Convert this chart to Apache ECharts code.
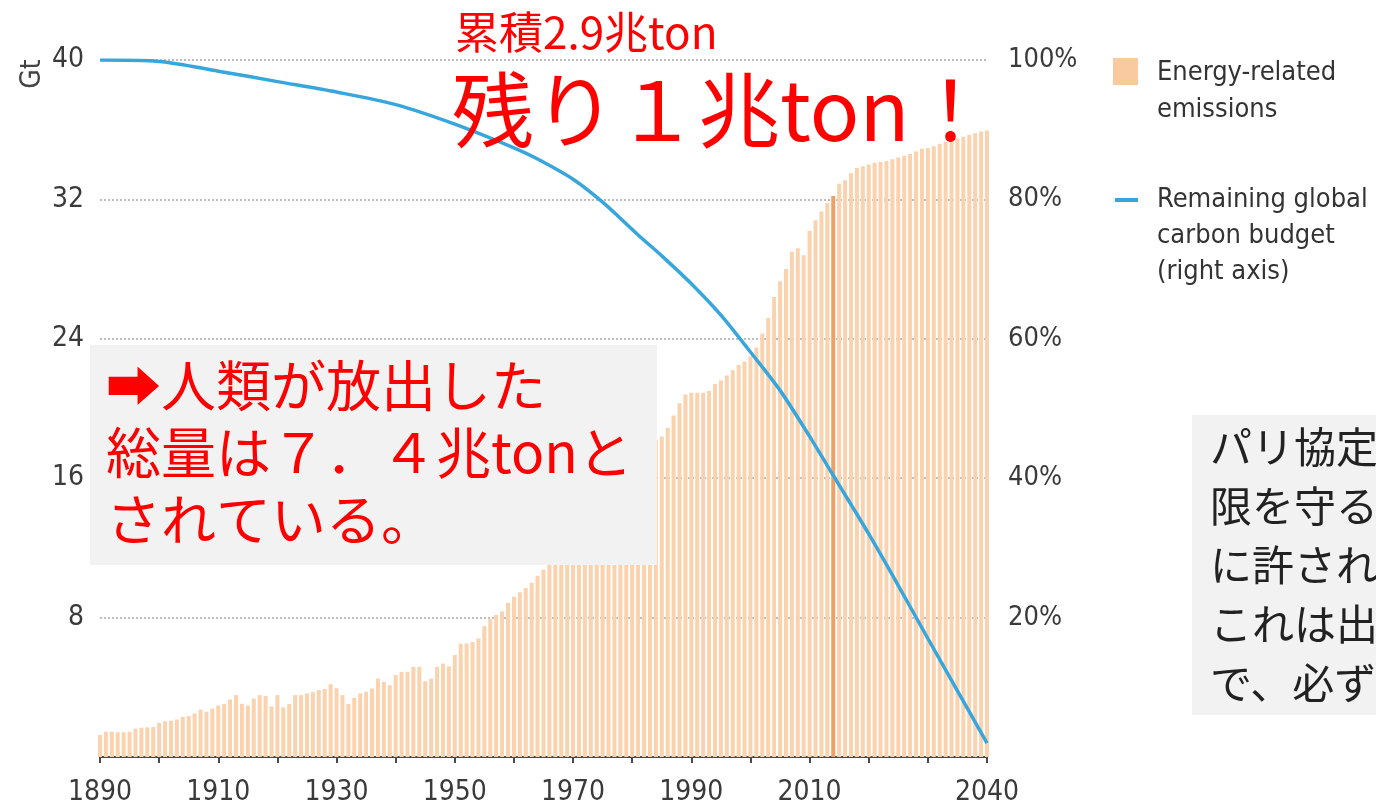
<!DOCTYPE html>
<html>
<head>
<meta charset="utf-8">
<title>Carbon budget</title>
<script src="https://cdn.jsdelivr.net/npm/echarts/dist/echarts.min.js"></script>
<style>
  html, body { margin: 0; padding: 0; background: #fff; }
  #chart { width: 1376px; height: 809px; }
</style>
</head>
<body>
<div id="chart"></div>
<script>
// energy-related emissions, Gt, one bar per year 1890..2040
const firstYear = 1890
const emissions = [
  1.26, 1.45, 1.45, 1.42, 1.42, 1.45, 1.62, 1.68, 1.70, 1.72,
  1.95, 2.05, 2.08, 2.15, 2.30, 2.35, 2.50, 2.72, 2.60, 2.78,
  2.95, 3.05, 3.30, 3.55, 3.05, 2.95, 3.35, 3.55, 3.50, 2.90,
  3.55, 2.85, 3.05, 3.55, 3.55, 3.65, 3.72, 3.84, 3.90, 4.18,
  3.95, 3.55, 3.05, 3.40, 3.65, 3.74, 3.93, 4.50, 4.31, 4.12,
  4.70, 4.89, 4.89, 5.17, 5.17, 4.35, 4.50, 5.17, 5.36, 5.20,
  5.85, 6.50, 6.52, 6.60, 6.80, 7.50, 7.90, 8.15, 8.35, 8.85,
  9.20, 9.45, 9.70, 10.0, 10.4, 10.75, 11.1, 11.4, 12.0, 12.7,
  13.5, 14.0, 14.6, 15.4, 15.3, 15.3, 16.1, 16.6, 17.2, 17.7,
  17.4, 17.0, 16.8, 17.2, 18.2, 18.4, 18.9, 19.6, 20.3, 20.8,
  20.9, 20.9, 20.9, 21.0, 21.4, 21.6, 21.9, 22.2, 22.5, 22.7,
  23.0, 23.5, 24.3, 25.2, 26.4, 27.3, 28.0, 29.0, 29.2, 28.8,
  30.2, 30.8, 31.3, 31.8, 32.2, 32.9, 33.1, 33.5, 33.8, 33.9,
  34.0, 34.1, 34.15, 34.2, 34.3, 34.4, 34.5, 34.6, 34.75, 34.9,
  34.95, 35.05, 35.2, 35.3, 35.4, 35.5, 35.6, 35.7, 35.8, 35.9,
  35.95
]
const markYear = 2014

// remaining global carbon budget, % (right axis)
const budgetYears = [1890, 1900, 1910, 1920, 1930, 1940, 1950, 1960, 1964, 1970, 1975, 1981, 1985, 1990, 1995, 2000, 2005, 2010, 2013, 2014, 2020, 2025, 2030, 2035, 2040]
const budgetPct   = [100, 99.8, 98.4, 96.9, 95.4, 93.6, 90.8, 87.4, 85.8, 82.9, 79.6, 74.9, 71.9, 67.9, 63.4, 58.1, 52.6, 46.0, 41.8, 40.4, 32.0, 24.6, 17.0, 9.5, 2.0]

const leftTicks = [8, 16, 24, 32, 40]
const rightTicks = [20, 40, 60, 80, 100]
const xLabels = [1890, 1910, 1930, 1950, 1970, 1990, 2010, 2040]

const barData = emissions.map((v, i) => {
  const yr = firstYear + i
  if (yr === markYear) return { value: [yr, v], itemStyle: { color: '#eda067' } }
  return [yr, v]
})
const lineData = budgetYears.map((y, i) => [y, budgetPct[i]])

const axisFont = "'Liberation Sans Narrow', 'DejaVu Sans Condensed', sans-serif"
const jpFont = "'Noto Sans CJK JP', 'DejaVu Sans', sans-serif"

const chart = echarts.init(document.getElementById('chart'))
const options = {
  animation: false,
  grid: { left: 100, right: 389, top: 60, bottom: 52 },
  xAxis: {
    type: 'value',
    min: 1890,
    max: 2040,
    interval: 10,
    axisLine: { lineStyle: { color: '#4a4a4a', width: 2 } },
    axisTick: { show: true, length: 6, lineStyle: { color: '#4a4a4a', width: 2 } },
    splitLine: { show: false },
    axisLabel: {
      margin: 22,
      fontFamily: axisFont,
      fontSize: 28,
      color: '#3a3a3a',
      formatter: (v) => xLabels.includes(v) ? String(v) : ''
    }
  },
  yAxis: [
    {
      type: 'value',
      min: 0,
      max: 40,
      interval: 8,
      axisLine: { show: false },
      axisTick: { show: false },
      splitLine: { lineStyle: { color: '#bdbdbd', type: [2, 2], width: 2 } },
      axisLabel: {
        margin: 16,
        fontFamily: axisFont,
        fontSize: 28,
        color: '#3a3a3a',
        formatter: (v) => leftTicks.includes(v) ? String(v) : ''
      }
    },
    {
      type: 'value',
      min: 0,
      max: 100,
      interval: 20,
      position: 'right',
      axisLine: { show: false },
      axisTick: { show: false },
      splitLine: { show: false },
      axisLabel: {
        margin: 21,
        fontFamily: axisFont,
        fontSize: 27,
        color: '#3a3a3a',
        formatter: (v) => rightTicks.includes(v) ? v + '%' : ''
      }
    }
  ],
  series: [
    {
      name: 'Energy-related emissions',
      type: 'bar',
      barWidth: 4,
      itemStyle: { color: '#fbd2ae' },
      data: barData
    },
    {
      name: 'Remaining global carbon budget (right axis)',
      type: 'line',
      yAxisIndex: 1,
      smooth: 0.3,
      symbol: 'none',
      lineStyle: { color: '#36a6dc', width: 3.5 },
      data: lineData,
      z: 5
    }
  ],
  graphic: [
    // axis unit
    { type: 'text', x: 33, y: 74, rotation: Math.PI / 2, z: 100,
      style: { text: 'Gt', font: '28px ' + axisFont, fill: '#444', align: 'center', verticalAlign: 'middle' } },
    // legend
    { type: 'rect', z: 100, shape: { x: 1113, y: 58, width: 25, height: 27 }, style: { fill: '#f9caa0' } },
    { type: 'text', x: 1157, y: 54, z: 100,
      style: { text: 'Energy-related\nemissions', font: '27px ' + axisFont, lineHeight: 37, fill: '#333', verticalAlign: 'top' } },
    { type: 'line', z: 100, shape: { x1: 1115, y1: 200, x2: 1138, y2: 200 }, style: { stroke: '#36a6dc', lineWidth: 4 } },
    { type: 'text', x: 1157, y: 182, z: 100,
      style: { text: 'Remaining global\ncarbon budget\n(right axis)', font: '27px ' + axisFont, lineHeight: 36, fill: '#333', verticalAlign: 'top' } },
    // headline annotations
    { type: 'text', x: 455, y: 32, z: 100,
      style: { text: '累積2.9兆ton', font: '44px ' + jpFont, fill: '#ff0000', verticalAlign: 'middle' } },
    { type: 'text', x: 452, y: 110, z: 100,
      style: { text: '残り１兆ton！', font: '82px ' + jpFont, fill: '#ff0000', verticalAlign: 'middle' } },
    // left note box
    { type: 'rect', z: 90, shape: { x: 90, y: 345, width: 567, height: 220 }, style: { fill: '#f2f2f2' } },
    { type: 'text', x: 106, y: 352, z: 100,
      style: { text: '➡人類が放出した\n総量は７．４兆tonと\nされている。', font: '55px ' + jpFont, lineHeight: 67, fill: '#ff0000', verticalAlign: 'top' } },
    // right note box (cut off by the page edge)
    { type: 'rect', z: 90, shape: { x: 1192, y: 415, width: 200, height: 300 }, style: { fill: '#f2f2f2' } },
    { type: 'text', x: 1210, y: 418, z: 100,
      style: { text: 'パリ協定\n限を守る\nに許され\nこれは出\nで、必ず', font: '42px ' + jpFont, lineHeight: 59, fill: '#222', verticalAlign: 'top' } }
  ]
}
chart.setOption(options)
window.onresize = () => { chart.resize() }
</script>
</body>
</html>
